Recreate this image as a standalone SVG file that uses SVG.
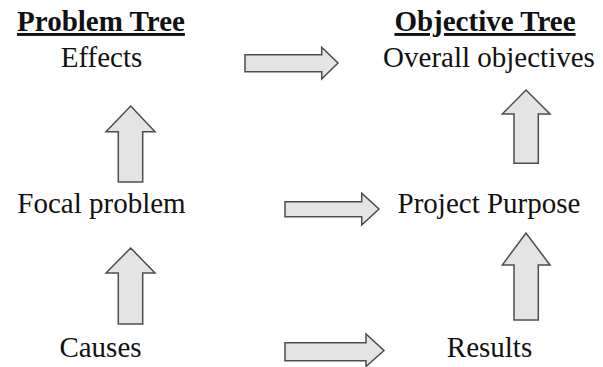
<svg xmlns="http://www.w3.org/2000/svg" width="603" height="367" viewBox="0 0 603 367">
<style>
.t{font-family:"Liberation Serif","Times New Roman",serif;font-size:29px;fill:#111;text-anchor:middle}
.h{font-weight:bold;text-decoration:underline}
.a{fill:#e4e4e4;stroke:#4d4d4d;stroke-width:1.5;stroke-linejoin:miter}
</style>
<rect width="603" height="367" fill="#fff"/>
<g id="problem-tree-title"><text class="t h" x="101" y="31">Problem Tree</text></g>
<g id="objective-tree-title"><text class="t h" x="485" y="31">Objective Tree</text></g>
<g id="effects"><text class="t" x="101.5" y="66.5">Effects</text></g>
<g id="overall-objectives"><text class="t" x="489" y="66.5">Overall objectives</text></g>
<g id="focal-problem"><text class="t" x="101.5" y="213">Focal problem</text></g>
<g id="project-purpose"><text class="t" x="489" y="213">Project Purpose</text></g>
<g id="causes"><text class="t" x="100.5" y="357">Causes</text></g>
<g id="results"><text class="t" x="489.5" y="357">Results</text></g>
<g id="connectors">
<path class="a" d="M245,54.7 H321.7 V47.3 L338,63 L321.7,79 V71.7 H245 Z"/>
<path class="a" d="M285,201.7 H361.7 V193.3 L379,209 L361.7,225 V216.7 H285 Z"/>
<path class="a" d="M285,342.7 H366 V334 L384,350.5 L366,366.5 V360.7 H285 Z"/>
<path class="a" d="M118.3,182 V131.7 H106 L130.7,106 L155,131.7 H142.7 V182 Z"/>
<path class="a" d="M118.3,324 V273 H106 L130.7,248 L155,273 H142.7 V324 Z"/>
<path class="a" d="M514,163.3 V114 H502.3 L526,90 L550,114 H538.3 V163.3 Z"/>
<path class="a" d="M514,320 V265 H502.3 L526,233 L550,265 H538.3 V320 Z"/>
</g>
</svg>
